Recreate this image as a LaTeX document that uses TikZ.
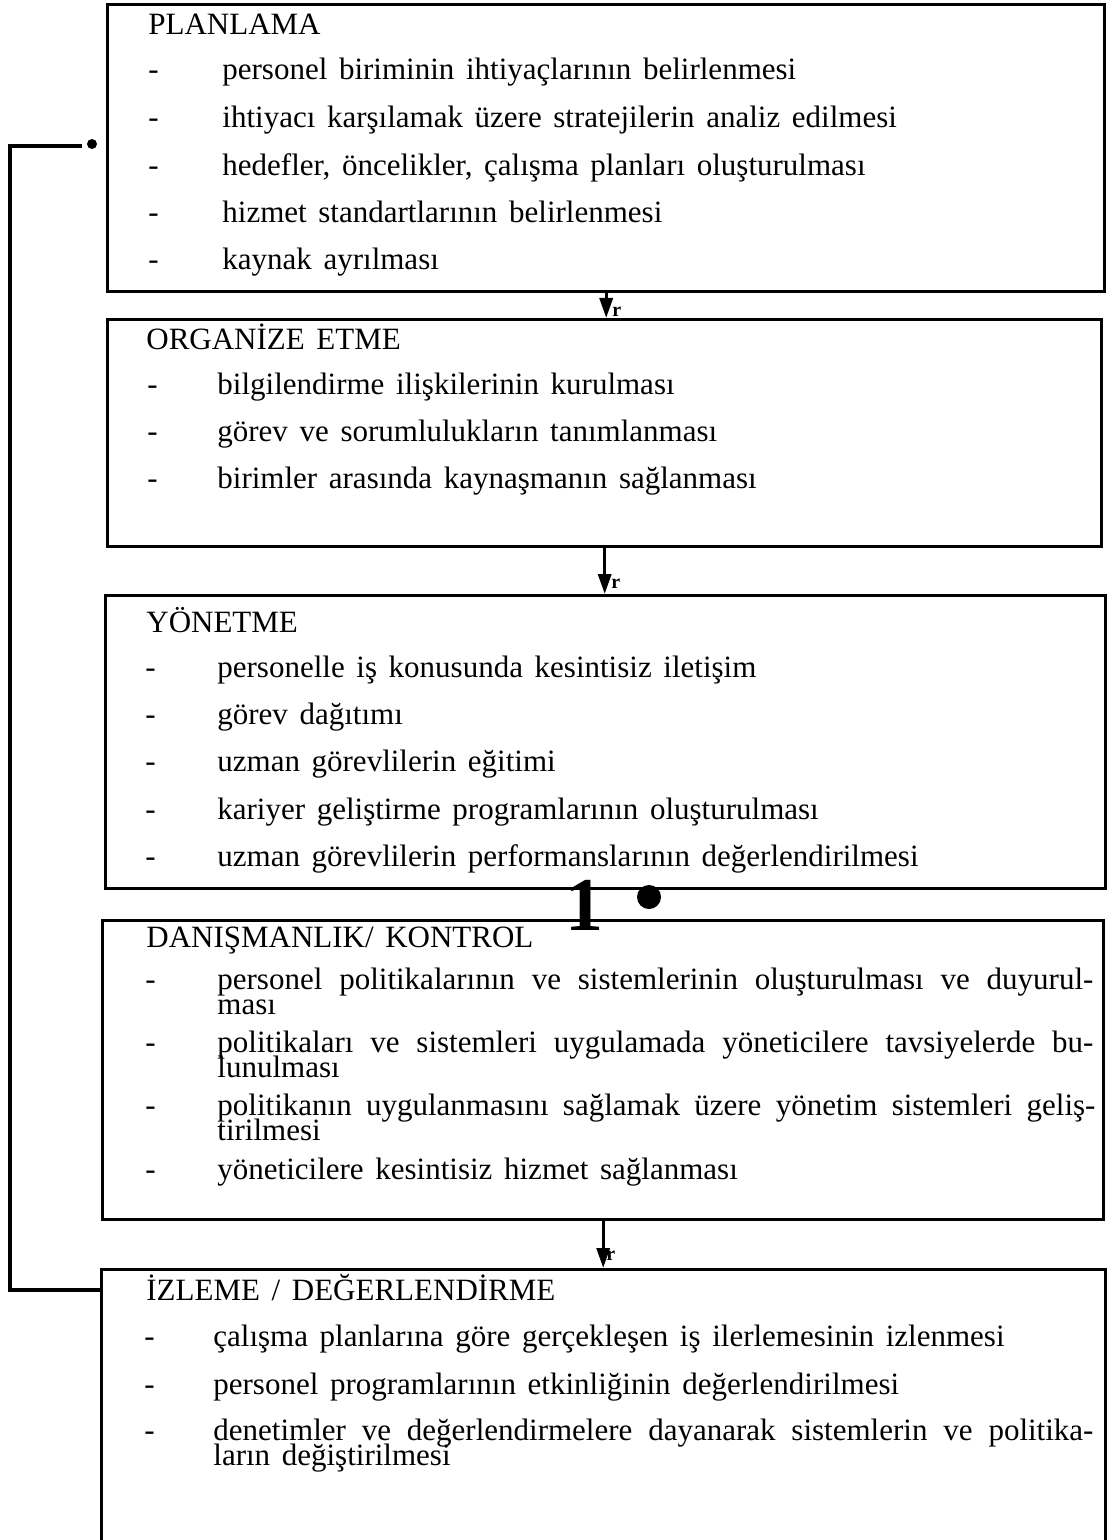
\documentclass[tikz,border=0pt]{standalone}
\usepackage{fontspec}
\setmainfont{Liberation Serif}[WordSpace=1.5]
\usetikzlibrary{arrows.meta}
\newcommand\fitw[2]{\makebox[#1pt][s]{#2}}
\newcommand\twolines[3]{\parbox[t]{#1pt}{\baselineskip=12.5pt\lineskiplimit=-100pt\lineskip=0pt\fitw{#1}{#2}\\#3}}
\begin{document}
\begin{tikzpicture}[x=0.5pt,y=-0.5pt,
  box/.style={draw,line width=1.7pt,inner sep=0pt,anchor=north west},
  txt/.style={anchor=base west,inner sep=0pt,font=\fontsize{15.5pt}{12.5pt}\selectfont},
  flow/.style={line width=1.7pt,-{Triangle[width=6.5pt,length=10pt]}},
  fb/.style={line width=1.6pt},
  lbl/.style={font=\bfseries\fontsize{10pt}{11pt}\selectfont,inner sep=0pt,anchor=west}]
\useasboundingbox (0,0) rectangle (1108,1540);
% boxes
\node[box,minimum width=498.5pt,minimum height=143.5pt] (b1) at (106,3) {};
\node[box,minimum width=497pt,minimum height=113.5pt] (b2) at (106,318) {};
\node[box,minimum width=500pt,minimum height=146.5pt] (b3) at (104,594) {};
\node[box,minimum width=500.5pt,minimum height=149.5pt] (b4) at (101,919) {};
\node[box,minimum width=502pt,minimum height=146pt] (b5) at (100,1268) {};
% box 1
\node[txt] (t10) at (148,35) {PLANLAMA};
\node[txt] (d11) at (148,80) {-};  \node[txt] (t11) at (222,80) {personel biriminin ihtiyaçlarının belirlenmesi};
\node[txt] (d12) at (148,128) {-}; \node[txt] (t12) at (222,128) {ihtiyacı karşılamak üzere stratejilerin analiz edilmesi};
\node[txt] (d13) at (148,176) {-}; \node[txt] (t13) at (222,176) {hedefler, öncelikler, çalışma planları oluşturulması};
\node[txt] (d14) at (148,223) {-}; \node[txt] (t14) at (222,223) {hizmet standartlarının belirlenmesi};
\node[txt] (d15) at (148,270) {-}; \node[txt] (t15) at (222,270) {kaynak ayrılması};
% box 2
\node[txt] (t20) at (146,350) {ORGANİZE ETME};
\node[txt] (d21) at (147,394) {-}; \node[txt] (t21) at (217,394) {bilgilendirme ilişkilerinin kurulması};
\node[txt] (d22) at (147,441) {-}; \node[txt] (t22) at (217,441) {görev ve sorumlulukların tanımlanması};
\node[txt] (d23) at (147,488) {-}; \node[txt] (t23) at (217,488) {birimler arasında kaynaşmanın sağlanması};
% box 3
\node[txt] (t30) at (146,632) {YÖNETME};
\node[txt] (d31) at (145,677) {-}; \node[txt] (t31) at (217,677) {personelle iş konusunda kesintisiz iletişim};
\node[txt] (d32) at (145,724) {-}; \node[txt] (t32) at (217,724) {görev dağıtımı};
\node[txt] (d33) at (145,771) {-}; \node[txt] (t33) at (217,771) {uzman görevlilerin eğitimi};
\node[txt] (d34) at (145,819) {-}; \node[txt] (t34) at (217,819) {kariyer geliştirme programlarının oluşturulması};
\node[txt] (d35) at (145,866) {-}; \node[txt] (t35) at (217,866) {uzman görevlilerin performanslarının değerlendirilmesi};
% marker between box 3 and 4
\node[inner sep=0pt,font=\bfseries\fontsize{38pt}{40pt}\selectfont] (one) at (584,905) {1};
\node[circle,fill,minimum size=12pt,inner sep=0pt] (bigdot) at (649,897) {};
% box 4
\node[txt] (t40) at (146,947) {DANIŞMANLIK/ KONTROL};
\node[txt] (d41) at (145,989) {-};
\node[txt] (t41) at (217,989) {\twolines{438}{personel politikalarının ve sistemlerinin oluşturulması ve duyurul-}{ması}};
\node[txt] (d42) at (145,1052) {-};
\node[txt] (t42) at (217,1052) {\twolines{438}{politikaları ve sistemleri uygulamada yöneticilere tavsiyelerde bu-}{lunulması}};
\node[txt] (d43) at (145,1115) {-};
\node[txt] (t43) at (217,1115) {\twolines{439}{politikanın uygulanmasını sağlamak üzere yönetim sistemleri geliş-}{tirilmesi}};
\node[txt] (d44) at (145,1179) {-}; \node[txt] (t44) at (217,1179) {yöneticilere kesintisiz hizmet sağlanması};
% box 5
\node[txt] (t50) at (146,1300) {İZLEME / DEĞERLENDİRME};
\node[txt] (d51) at (144,1346) {-}; \node[txt] (t51) at (213,1346) {çalışma planlarına göre gerçekleşen iş ilerlemesinin izlenmesi};
\node[txt] (d52) at (144,1394) {-}; \node[txt] (t52) at (213,1394) {personel programlarının etkinliğinin değerlendirilmesi};
\node[txt] (d53) at (144,1440) {-};
\node[txt] (t53) at (213,1440) {\twolines{440}{denetimler ve değerlendirmelere dayanarak sistemlerin ve politika-}{ların değiştirilmesi}};
% flow arrows
\draw[flow] (b1.south) -- (b1.south |- b2.north);
\draw[flow] (b2.south) -- (b2.south |- b3.north);
\draw[flow] (b4.south) -- (b4.south |- b5.north);
\node[lbl] (r1) at (612,312) {r};
\node[lbl] (r2) at (611,584) {r};
\node[lbl] (r3) at (606,1256) {r};
% feedback line
\node[circle,fill,minimum size=5pt,inner sep=0pt] (fbdot) at (92,144) {};
\draw[fb] ([yshift=-11pt]b5.north west) -| (10,146) -- ([xshift=-2.5pt]fbdot.west |- 0,146);
\end{tikzpicture}
\end{document}
